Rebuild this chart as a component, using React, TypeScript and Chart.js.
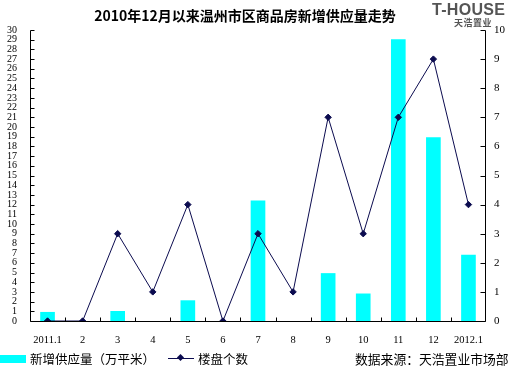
import React, { useEffect, useRef } from "react";
import { Chart, registerables } from "chart.js";

Chart.register(...registerables);

const categories = ["2011.1", "2", "3", "4", "5", "6", "7", "8", "9", "10", "11", "12", "2012.1"];
const supplyArea = [0.9, 0, 1.0, 0, 2.1, 0, 12.4, 0, 4.9, 2.8, 29.0, 18.9, 6.8];
const projectCount = [0, 0, 3, 1, 4, 0, 3, 1, 7, 3, 7, 9, 4];
const leftMax = 30;
const rightMax = 10;

const titleText = "2010年12月以来温州市区商品房新增供应量走势";
const barLabel = "新增供应量（万平米）";
const lineLabel = "楼盘个数";
const sourceText = "数据来源：天浩置业市场部";

const BAR_COLOR = "#00FFFF";
const LINE_COLOR = "#0b0b4f";
const CJK = '"Noto Sans CJK SC", "Noto Sans", sans-serif';
const SERIF = '"Liberation Serif", "DejaVu Serif", serif';

const axisPlugin = {
  id: "insideAxes",
  afterDatasetsDraw(chart: any) {
    const { ctx, chartArea: a, scales } = chart;
    const L = Math.round(a.left) + 0.5;
    const R = Math.round(a.right) - 0.5;
    const B = Math.round(a.bottom) + 0.5;
    const T = Math.round(a.top) + 0.5;
    ctx.save();
    ctx.strokeStyle = "#000";
    ctx.lineWidth = 1;
    ctx.beginPath();
    ctx.moveTo(L, T);
    ctx.lineTo(L, B);
    ctx.lineTo(R, B);
    ctx.moveTo(R, T);
    ctx.lineTo(R, B);
    for (let v = 0; v <= leftMax; v++) {
      const y = Math.round(scales.y.getPixelForValue(v)) + 0.5;
      ctx.moveTo(L, y);
      ctx.lineTo(L + 4, y);
    }
    for (let v = 0; v <= rightMax; v++) {
      const y = Math.round(scales.y1.getPixelForValue(v)) + 0.5;
      ctx.moveTo(R, y);
      ctx.lineTo(R - 5, y);
    }
    const xs = scales.x;
    const half = (xs.getPixelForValue(1) - xs.getPixelForValue(0)) / 2;
    for (let i = 1; i < categories.length; i++) {
      const x = Math.round(xs.getPixelForValue(i) - half) + 0.5;
      ctx.moveTo(x, B);
      ctx.lineTo(x, B - 4);
    }
    ctx.stroke();
    ctx.restore();
  },
};

export default function App() {
  const ref = useRef<HTMLCanvasElement | null>(null);

  useEffect(() => {
    document.body.style.margin = "0";
    const canvas = ref.current;
    if (!canvas) return;
    const chart = new Chart(canvas, {
      type: "bar",
      data: {
        labels: categories,
        datasets: [
          {
            type: "bar",
            label: barLabel,
            data: supplyArea.map((v) => (v === 0 ? null : v)),
            yAxisID: "y",
            backgroundColor: BAR_COLOR,
            borderWidth: 0,
            barThickness: 14,
            skipNull: true,
            order: 1,
          } as any,
          {
            type: "line",
            label: lineLabel,
            data: projectCount,
            yAxisID: "y1",
            borderColor: LINE_COLOR,
            borderWidth: 1,
            backgroundColor: LINE_COLOR,
            pointStyle: "rectRot",
            pointRadius: 3.2,
            pointBackgroundColor: LINE_COLOR,
            pointBorderColor: LINE_COLOR,
            tension: 0,
            order: 0,
          } as any,
        ],
      },
      options: {
        responsive: false,
        animation: false,
        devicePixelRatio: 1,
        layout: { padding: { top: 30, bottom: 18, left: 0, right: 0 } },
        plugins: { legend: { display: false }, title: { display: false }, tooltip: { enabled: false } },
        scales: {
          x: {
            offset: true,
            grid: { display: false, drawTicks: false },
            border: { display: false },
            ticks: { color: "#000", font: { family: SERIF, size: 10.5 }, padding: 13, maxRotation: 0, autoSkip: false },
            afterFit: (s: any) => {
              s.height = 29;
            },
          },
          y: {
            position: "left",
            min: 0,
            max: leftMax,
            grid: { display: false, drawTicks: false },
            border: { display: false },
            ticks: { stepSize: 1, color: "#000", font: { family: SERIF, size: 10 }, padding: 13, autoSkip: false },
            afterFit: (s: any) => {
              s.width = 30;
            },
          },
          y1: {
            position: "right",
            min: 0,
            max: rightMax,
            grid: { display: false, drawTicks: false },
            border: { display: false },
            ticks: { stepSize: 1, color: "#000", font: { family: SERIF, size: 11 }, padding: 8 },
            afterFit: (s: any) => {
              s.width = 28;
            },
          },
        },
      },
      plugins: [axisPlugin],
    });
    return () => chart.destroy();
  }, []);

  const text = (extra: React.CSSProperties): React.CSSProperties => ({
    position: "absolute",
    whiteSpace: "nowrap",
    fontFamily: CJK,
    color: "#000",
    ...extra,
  });

  return (
    <div style={{ position: "absolute", left: 0, top: 0, width: 514, height: 368, background: "#fff", overflow: "hidden" }}>
      <canvas ref={ref} width={514} height={368} style={{ position: "absolute", left: 0, top: 0, width: 514, height: 368 }} />
      <div style={text({ left: 0, top: 5, width: 490, textAlign: "center", fontSize: 14, fontWeight: 700, lineHeight: "20px" })}>{titleText}</div>
      <div style={text({ left: 432, top: 1, fontFamily: '"Liberation Sans", Arial, sans-serif', fontSize: 16, fontWeight: 900, color: "#555", lineHeight: "18px", letterSpacing: 0.3 })}>T-HOUSE</div>
      <div style={text({ left: 454, top: 18, fontSize: 9, fontWeight: 700, color: "#555", lineHeight: "10px", letterSpacing: 0.5 })}>天浩置业</div>
      <div style={{ position: "absolute", left: 0, top: 355, width: 26, height: 8, background: BAR_COLOR }} />
      <div style={text({ left: 30, top: 350, fontSize: 12.5, lineHeight: "17px" })}>{barLabel}</div>
      <div style={{ position: "absolute", left: 168, top: 358, width: 26, height: 1, background: LINE_COLOR }} />
      <div style={{ position: "absolute", left: 178, top: 355, width: 5, height: 5, background: LINE_COLOR, transform: "rotate(45deg)" }} />
      <div style={text({ left: 198, top: 350, fontSize: 12.5, lineHeight: "17px" })}>{lineLabel}</div>
      <div style={text({ left: 355, top: 350, fontSize: 12.8, lineHeight: "17px" })}>{sourceText}</div>
    </div>
  );
}
